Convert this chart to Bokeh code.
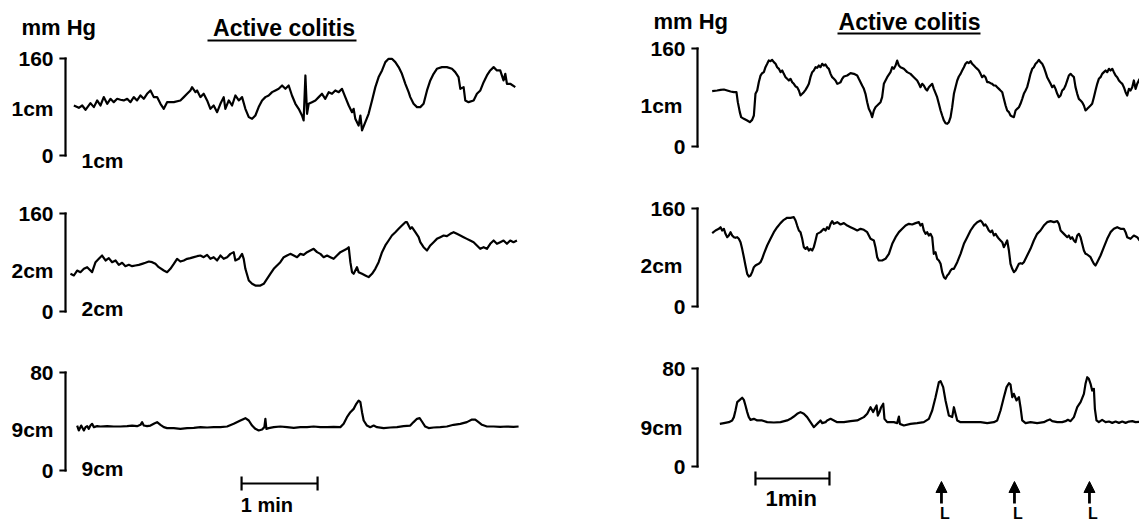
from bokeh.plotting import figure
from bokeh.layouts import row, column
from bokeh.models import Range1d, Label, Arrow, NormalHead
from bokeh.embed import file_html
from bokeh.resources import INLINE

FONT = "Liberation Sans"

# ---------------- data ----------------
TITLE = "Active colitis"
UNIT = "mm Hg"
SITES = ["1cm", "2cm", "9cm"]
FULL_SCALE = [160, 160, 80]          # mm Hg at the top of each calibration bar
BAR_SECONDS = 60                      # time scale bar length (s)
LEFT_BAR_LABEL = "1 min"
RIGHT_BAR_LABEL = "1min"
LEFT_BAR_START = 139.0                # s
RIGHT_BAR_START = 47.0                # s
ARROW_T = [197.8, 257.0, 317.8]       # s, right panel events
ARROW_LABEL = "L"

# left panel traces: (time s, pressure mm Hg)
L1 = [(6.6,82.5),(10.5,78.7),(13.2,82.5),(15.8,75.4),(19.7,86.4),(22.4,79.8),(25.0,90.8),(27.6,82.5),(30.2,96.3),(32.9,85.3),(35.5,93.5),(38.1,88.0),(40.8,93.5),(43.4,91.9),(46.0,90.8),(48.7,93.5),(51.3,88.0),(53.9,96.3),(56.5,90.8),(59.2,99.0),(61.8,93.5),(64.4,101.8),(67.1,107.3),(69.7,96.3),(72.3,96.3),(75.0,85.3),(77.6,77.0),(80.2,88.0),(85.5,88.0),(90.7,90.8),(93.4,96.3),(96.0,101.8),(98.6,107.3),(99.9,112.8),(102.6,104.5),(103.9,107.3),(106.5,96.3),(109.1,101.8),(111.8,90.8),(114.4,77.0),(117.0,82.5),(119.7,71.5),(122.3,85.3),(124.9,96.3),(126.2,77.0),(128.9,90.8),(131.5,82.5),(134.1,99.0),(136.8,90.8),(139.4,96.3),(142.0,77.0),(144.7,63.3),(147.3,60.5),(149.9,66.0),(152.5,79.8),(155.2,90.8),(157.8,96.3),(160.4,99.0),(163.1,104.5),(165.7,107.3),(168.3,110.0),(171.0,115.5),(173.6,110.0),(176.2,115.5),(178.8,99.0),(181.5,85.3),(184.1,77.0),(186.7,66.0),(188.0,57.8),(189.4,132.0),(190.7,68.8),(192.0,85.3),(194.6,88.0),(197.3,90.8),(199.9,96.3),(202.5,101.8),(205.1,93.5),(207.8,104.5),(210.4,101.8),(213.0,107.3),(215.7,104.5),(218.3,110.0),(220.9,96.3),(223.6,82.5),(226.2,71.5),(227.5,77.0),(228.8,60.5),(231.4,49.5),(232.8,66.0),(234.1,41.3),(236.7,55.0),(239.3,68.8),(242.0,90.8),(244.6,112.8),(247.2,129.3),(249.9,140.3),(252.5,154.0),(255.1,159.5),(257.7,159.5),(260.4,154.0),(263.0,145.8),(265.6,134.8),(268.3,118.3),(270.9,104.5),(272.2,96.3),(274.8,85.3),(277.5,79.8),(280.1,79.8),(282.7,85.3),(285.4,107.3),(288.0,123.8),(290.6,134.8),(293.2,143.0),(297.2,145.8),(301.1,145.8),(305.1,143.0),(307.7,137.5),(310.3,129.3),(311.7,110.0),(314.3,112.8),(315.6,90.8),(318.2,88.0),(322.2,90.8),(324.8,101.8),(327.5,107.3),(330.1,121.0),(332.7,132.0),(335.3,140.3),(338.0,145.8),(340.6,140.3),(343.2,140.3),(345.8,123.8),(347.2,134.8),(348.5,118.3),(351.1,118.3),(355.1,112.8)]

L2 = [(3.9,61.5),(6.6,58.8),(9.2,66.9),(11.8,64.2),(14.5,69.7),(17.1,72.4),(19.7,66.9),(21.0,64.2),(23.7,80.5),(26.3,86.0),(28.9,91.4),(31.6,83.3),(34.2,87.1),(36.8,80.5),(39.5,83.3),(42.1,76.2),(44.7,79.5),(47.3,74.0),(50.0,76.2),(52.6,74.0),(55.2,75.1),(57.9,76.2),(60.5,77.8),(63.1,79.5),(65.8,81.6),(68.4,80.5),(71.0,77.8),(73.6,72.4),(77.6,66.9),(80.2,64.2),(82.8,69.7),(85.5,77.8),(88.1,86.0),(90.7,81.6),(93.4,83.3),(96.0,86.0),(98.6,87.1),(101.3,88.7),(103.9,90.3),(106.5,91.4),(109.1,88.7),(111.8,92.5),(114.4,86.0),(117.0,88.7),(119.7,83.3),(122.3,91.4),(124.9,86.0),(127.6,88.7),(130.2,94.1),(132.8,96.9),(134.1,83.3),(136.8,86.0),(139.4,94.1),(140.7,86.0),(142.0,69.7),(144.7,50.6),(147.3,45.2),(149.9,42.4),(153.9,42.4),(156.5,45.2),(159.1,53.3),(161.7,61.5),(164.4,69.7),(167.0,75.1),(169.6,80.5),(172.3,88.7),(174.9,91.4),(177.5,94.1),(180.2,91.4),(182.8,88.7),(185.4,94.1),(188.0,92.5),(190.7,96.9),(193.3,99.6),(195.9,102.3),(198.6,96.9),(201.2,94.1),(203.8,88.7),(206.5,91.4),(209.1,88.7),(211.7,86.0),(214.3,91.4),(217.0,96.9),(219.6,99.6),(222.2,102.3),(223.6,105.0),(224.9,80.5),(226.2,64.2),(227.5,61.5),(228.8,66.9),(230.1,72.4),(231.4,64.2),(234.1,61.5),(236.7,58.8),(239.3,56.1),(242.0,61.5),(244.6,69.7),(247.2,80.5),(249.9,96.9),(252.5,107.8),(255.1,115.9),(257.7,124.1),(260.4,129.5),(263.0,135.0),(265.6,140.4),(268.3,145.8),(269.6,145.8),(270.9,140.4),(272.2,135.0),(273.5,137.7),(276.2,129.5),(278.8,121.4),(280.1,113.2),(282.7,105.0),(285.4,99.6),(288.0,107.8),(290.6,113.2),(293.2,118.6),(295.9,121.4),(298.5,124.1),(301.1,123.0),(303.8,126.8),(306.4,129.5),(309.0,126.8),(311.7,124.1),(314.3,121.4),(316.9,118.6),(319.5,115.9),(322.2,113.2),(324.8,107.8),(327.4,102.3),(330.1,105.0),(332.7,102.3),(335.3,110.5),(338.0,115.9),(340.6,110.5),(343.2,113.2),(345.8,115.9),(348.5,110.5),(351.1,115.9),(353.7,113.2),(356.4,115.9)]

L3 = [(9.2,36.7),(10.5,32.7),(12.4,36.7),(14.5,32.7),(15.8,35.4),(17.1,36.2),(18.4,34.0),(19.7,36.7),(21.0,38.1),(22.4,35.4),(25.0,36.2),(27.6,35.9),(32.9,36.2),(38.1,35.9),(43.4,35.9),(48.7,36.2),(52.6,36.7),(56.5,36.2),(59.2,37.3),(60.5,39.5),(61.8,36.7),(64.4,36.2),(67.1,36.7),(69.7,38.1),(72.3,39.5),(75.0,37.3),(77.6,35.4),(80.2,34.6),(85.5,34.6),(90.7,34.0),(96.0,34.6),(101.3,34.8),(106.5,35.4),(111.8,35.1),(117.0,35.4),(122.3,35.4),(127.6,35.9),(132.8,38.1),(138.1,40.8),(142.0,42.7),(144.7,40.8),(147.3,36.7),(149.9,34.0),(152.5,32.7),(155.2,33.5),(157.0,35.4),(157.8,42.2),(158.6,34.0),(160.4,34.6),(164.4,35.4),(169.6,35.9),(174.9,35.4),(180.2,34.8),(185.4,35.4),(190.7,35.4),(195.9,35.9),(201.2,35.4),(206.5,35.4),(211.7,35.6),(217.0,35.4),(219.6,38.1),(222.2,43.5),(224.9,47.6),(227.5,50.3),(229.6,54.4),(231.4,57.1),(232.8,55.8),(234.1,47.6),(235.4,40.8),(238.0,36.7),(240.6,35.4),(243.3,36.7),(245.9,35.4),(251.2,34.6),(256.4,35.1),(261.7,35.4),(266.9,36.2),(272.2,36.7),(274.8,39.5),(277.5,42.2),(279.6,42.7),(281.4,40.0),(284.0,35.9),(286.7,34.6),(290.6,35.1),(295.9,35.4),(301.1,35.9),(306.4,37.3),(311.7,38.1),(316.9,39.5),(320.9,41.6),(323.5,41.6),(326.1,39.5),(328.8,37.3),(332.7,35.9),(338.0,35.9),(343.2,35.6),(348.5,35.9),(353.7,35.6),(357.7,35.9)]

# right panel traces: (time s, pressure mm Hg)
R1 = [(11.9,90.3),(15.9,91.4),(18.7,92.5),(21.4,93.1),(24.1,91.4),(26.8,89.8),(29.5,88.7),(31.6,88.7),(32.7,72.4),(34.3,56.1),(35.4,47.9),(37.6,45.2),(40.3,42.4),(42.4,39.7),(44.3,43.5),(45.7,50.6),(47.0,86.0),(48.4,91.4),(49.7,105.0),(51.1,115.9),(52.4,119.7),(53.8,121.4),(55.1,129.5),(56.5,135.0),(57.8,140.4),(59.2,139.3),(60.5,141.5),(61.9,137.7),(63.3,135.0),(64.6,129.5),(66.0,126.8),(67.3,121.4),(68.7,124.1),(70.0,118.6),(71.4,113.2),(72.7,110.5),(74.1,107.8),(75.4,110.5),(76.8,105.0),(78.1,102.3),(79.5,98.0),(80.8,96.9),(82.2,91.4),(83.5,83.3),(84.9,86.0),(86.2,88.7),(87.6,92.5),(88.9,96.9),(90.3,102.3),(91.6,113.2),(93.0,121.4),(94.3,124.1),(95.7,129.5),(97.0,128.4),(98.4,132.2),(99.7,129.5),(101.1,135.0),(102.4,132.2),(103.8,133.9),(105.1,129.5),(106.5,126.8),(107.9,118.6),(109.2,113.2),(110.6,110.5),(111.9,107.8),(113.3,102.3),(114.6,103.4),(116.0,105.0),(117.3,110.5),(118.7,114.3),(121.4,115.9),(124.1,119.7),(126.8,118.6),(129.5,115.9),(130.8,110.5),(132.2,105.0),(133.5,99.6),(134.9,94.1),(136.2,86.0),(137.6,72.4),(138.9,61.5),(140.3,56.1),(141.6,47.9),(143.0,58.8),(144.3,64.2),(145.7,66.9),(148.4,72.4),(149.7,80.5),(151.1,102.3),(153.8,113.2),(156.5,121.4),(157.9,129.5),(159.2,126.8),(160.6,132.2),(161.9,140.4),(163.3,132.2),(164.6,129.5),(167.3,126.8),(170.0,121.4),(172.7,118.6),(175.4,113.2),(178.1,107.8),(179.5,102.3),(180.8,96.9),(182.2,102.3),(183.5,99.6),(184.9,94.1),(186.2,91.4),(187.6,96.9),(188.9,99.6),(190.3,102.3),(191.6,94.1),(194.3,80.5),(195.7,69.7),(197.1,58.8),(198.4,50.6),(199.8,42.4),(201.1,38.1),(202.5,37.0),(203.8,39.7),(205.2,47.9),(206.5,64.2),(207.9,86.0),(209.2,96.9),(210.6,107.8),(211.9,114.3),(213.3,118.6),(214.6,124.1),(216.0,129.5),(217.3,135.0),(218.7,137.7),(220.0,136.1),(221.4,139.3),(222.7,135.0),(224.1,132.2),(225.4,129.5),(226.8,126.8),(228.1,124.1),(229.5,118.6),(230.8,113.2),(232.2,115.9),(233.5,113.2),(234.9,105.0),(236.2,105.0),(237.6,103.4),(238.9,102.3),(240.3,99.6),(241.7,99.6),(243.0,96.9),(244.4,94.1),(245.7,91.4),(247.1,88.7),(248.4,77.8),(249.8,66.9),(251.1,58.8),(252.5,56.1),(253.8,50.6),(255.2,49.0),(256.5,47.9),(257.9,58.8),(259.2,61.5),(260.6,64.2),(261.9,69.7),(263.3,77.8),(264.6,86.0),(266.0,91.4),(267.3,96.9),(268.7,107.8),(270.0,118.6),(271.4,126.8),(272.7,129.5),(274.1,135.0),(275.4,137.7),(276.8,141.5),(278.1,137.7),(279.5,135.0),(280.8,129.5),(282.2,121.4),(283.5,113.2),(284.9,107.8),(286.3,102.3),(287.6,96.9),(289.0,99.6),(290.3,94.1),(291.7,86.0),(293.0,80.5),(294.4,83.3),(295.7,91.4),(297.1,94.1),(298.4,99.6),(299.8,107.8),(301.1,115.9),(302.5,118.6),(303.8,115.9),(305.2,113.2),(306.5,96.9),(307.9,86.0),(309.2,77.8),(310.6,75.1),(311.9,72.4),(313.3,66.9),(314.6,58.8),(316.0,61.5),(317.3,64.2),(318.7,66.9),(320.0,69.7),(321.4,80.5),(322.7,91.4),(324.1,102.3),(325.4,110.5),(326.8,113.2),(328.1,118.6),(329.5,121.4),(330.9,124.1),(332.2,121.4),(333.6,126.8),(334.9,124.1),(336.3,126.8),(337.6,121.4),(339.0,115.9),(340.3,113.2),(341.7,107.8),(343.0,105.0),(344.4,102.3),(345.7,96.9),(347.1,88.7),(348.4,83.3),(349.8,94.1),(351.1,91.4),(352.5,96.9),(353.8,107.8),(355.2,94.1),(356.5,102.3),(358.5,110.5)]

R2 = [(11.9,119.7),(14.6,124.1),(17.3,126.8),(18.7,129.5),(20.0,124.1),(21.4,126.8),(22.7,118.6),(24.1,113.2),(25.4,115.9),(26.8,121.4),(28.1,115.9),(29.5,113.2),(30.8,112.1),(32.2,113.2),(33.5,110.5),(34.9,105.0),(36.2,94.1),(37.6,80.5),(38.9,66.9),(40.3,53.3),(41.6,49.0),(43.0,50.6),(44.3,56.1),(45.7,64.2),(47.0,66.9),(48.4,68.6),(49.7,69.7),(51.1,72.4),(52.4,77.8),(53.8,86.0),(56.5,99.6),(59.2,110.5),(61.9,121.4),(64.6,129.5),(67.3,136.1),(70.0,141.5),(72.7,144.8),(75.4,144.8),(78.1,145.8),(79.5,140.4),(80.8,132.2),(82.2,124.1),(83.5,121.4),(84.9,110.5),(86.2,96.9),(87.6,94.1),(88.9,96.9),(90.3,91.4),(91.6,94.1),(93.0,91.4),(94.3,96.9),(95.7,107.8),(97.0,118.6),(99.7,121.4),(102.4,126.8),(103.8,124.1),(105.1,129.5),(106.5,126.8),(107.9,135.0),(109.2,139.3),(110.6,135.0),(113.3,137.7),(116.0,133.9),(118.7,136.1),(121.4,132.2),(124.1,129.5),(126.8,126.8),(129.5,124.1),(132.2,126.8),(134.9,125.2),(137.6,121.4),(140.3,110.5),(143.0,107.8),(144.3,96.9),(145.7,80.5),(147.0,75.1),(149.7,75.1),(152.4,77.8),(155.2,86.0),(157.9,102.3),(160.6,113.2),(163.3,121.4),(166.0,126.8),(168.7,132.2),(171.4,135.0),(174.1,133.9),(176.8,136.1),(179.5,137.7),(180.8,132.2),(182.2,135.0),(183.5,124.1),(184.9,118.6),(186.2,121.4),(187.6,115.9),(188.9,118.6),(190.3,113.2),(191.6,86.0),(193.0,88.7),(194.3,77.8),(195.7,75.1),(197.1,69.7),(198.4,56.1),(199.8,47.9),(201.1,45.2),(202.5,50.6),(203.8,53.3),(205.2,58.8),(206.5,61.5),(207.9,61.5),(210.6,72.4),(213.3,86.0),(216.0,102.3),(218.7,113.2),(221.4,124.1),(224.1,132.2),(226.8,137.7),(229.5,140.4),(230.8,137.7),(232.2,132.2),(233.5,133.9),(234.9,129.5),(236.2,124.1),(237.6,121.4),(238.9,124.1),(240.3,115.9),(241.7,118.6),(243.0,114.3),(244.4,110.5),(245.7,107.8),(247.1,105.0),(248.4,96.9),(249.8,102.3),(251.1,107.8),(252.5,91.4),(253.8,69.7),(255.2,61.5),(256.5,56.1),(257.9,58.8),(259.2,64.2),(260.6,69.7),(261.9,70.7),(263.3,69.7),(264.6,72.4),(267.3,83.3),(270.0,94.1),(272.7,107.8),(275.4,118.6),(278.1,124.1),(280.8,132.2),(283.5,137.7),(286.3,139.3),(289.0,137.7),(291.7,139.3),(293.0,135.0),(294.4,124.1),(297.1,118.6),(299.8,113.2),(301.1,115.9),(302.5,110.5),(303.8,113.2),(305.2,107.8),(306.5,105.0),(307.9,115.9),(309.2,118.6),(310.6,113.2),(311.9,102.3),(313.3,91.4),(314.6,86.0),(316.0,84.9),(318.7,80.5),(320.0,75.1),(321.4,69.7),(322.7,66.9),(324.1,72.4),(326.8,83.3),(329.5,96.9),(332.2,110.5),(334.9,121.4),(337.6,126.8),(340.3,129.5),(343.0,126.8),(345.7,126.8),(347.1,121.4),(348.4,113.2),(351.1,110.5),(353.8,115.9),(356.5,113.2),(358.5,107.8)]

R3 = [(18.1,34.8),(21.4,35.4),(25.4,36.2),(28.1,37.6),(29.5,40.3),(30.8,45.7),(32.2,52.5),(34.3,54.4),(36.2,56.1),(37.6,54.4),(38.9,49.8),(40.3,44.4),(41.6,40.3),(43.0,38.1),(45.7,38.9),(48.4,37.6),(52.4,37.6),(56.5,36.2),(61.9,35.9),(67.3,36.2),(72.7,37.6),(75.4,38.9),(78.1,40.8),(80.8,43.0),(83.5,44.4),(86.2,43.0),(88.9,40.3),(91.6,36.2),(94.3,32.1),(95.7,33.5),(98.4,36.2),(99.7,37.6),(101.1,35.4),(103.8,36.2),(105.1,37.6),(107.9,38.9),(110.6,37.6),(113.3,36.2),(118.7,36.2),(124.1,37.0),(129.5,37.6),(132.2,38.9),(134.9,40.3),(137.6,43.0),(140.3,48.4),(142.4,44.4),(143.8,47.1),(145.2,49.8),(146.2,41.6),(147.6,44.4),(148.9,48.4),(150.6,51.2),(151.6,38.9),(153.8,36.2),(156.5,36.2),(159.2,36.2),(161.9,35.4),(163.3,40.8),(164.1,34.8),(167.3,33.5),(172.7,34.8),(178.1,35.4),(183.5,36.2),(187.6,38.9),(190.3,45.7),(193.0,56.6),(195.7,68.8),(197.1,69.7),(199.2,64.8),(201.1,53.9),(203.8,41.6),(206.5,40.3),(207.9,48.4),(209.2,43.0),(210.6,37.6),(213.3,36.2),(218.7,36.2),(224.1,36.2),(229.5,36.2),(234.9,35.4),(240.3,36.2),(243.0,37.6),(245.7,45.7),(248.4,56.6),(250.6,64.8),(252.5,68.0),(253.8,66.9),(255.2,56.6),(256.5,59.3),(258.7,53.9),(260.6,56.6),(261.9,48.4),(263.3,37.6),(266.0,35.4),(270.0,36.2),(275.4,35.4),(280.8,36.2),(283.5,37.6),(285.7,38.4),(287.6,37.0),(291.7,36.2),(295.7,36.2),(298.4,37.0),(300.3,38.1),(302.5,37.0),(305.2,40.3),(307.9,48.4),(310.6,52.5),(313.3,59.3),(314.6,67.5),(316.0,72.9),(317.3,71.6),(318.7,67.5),(320.0,62.0),(321.4,63.4),(322.2,47.1),(323.5,37.6),(325.4,36.2),(328.1,38.1),(330.9,36.2),(333.6,36.7),(336.3,35.6),(339.0,36.7),(341.7,35.6),(344.4,36.7),(347.1,35.6),(349.8,36.7),(352.5,37.0),(355.2,36.2),(358.5,36.5)]

# ---------------- layout (page pixels, used only for placement) ----------------
LEFT_COL = dict(x0=0, width=570, axis_px=65, px_per_min=76)
RIGHT_COL = dict(x0=570, width=569, axis_px=697, px_per_min=74)
# (figure top, figure height, pixel of 0, pixel of full scale)
LEFT_ROWS = [(0, 185, 155, 58), (185, 160, 311, 213), (345, 178, 470, 372)]
RIGHT_ROWS = [(0, 180, 146, 48), (180, 160, 306, 208), (340, 183, 466, 368)]


def add_label(p, x, y, text, size=21, align="left", baseline="middle", style="bold"):
    p.add_layout(Label(x=x, y=y, text=text, text_font=FONT,
                       text_font_size="%dpx" % size, text_font_style=style,
                       text_align=align, text_baseline=baseline,
                       text_color="black"))


def make_fig(col, spec, full):
    top, h, y0, y1 = spec
    spp = 60.0 / col["px_per_min"]
    x_start = (col["x0"] - col["axis_px"]) * spp
    x_end = (col["x0"] + col["width"] - col["axis_px"]) * spp
    upp = full / float(y0 - y1)
    y_start = -(top + h - y0) * upp
    y_end = full + (y1 - top) * upp
    p = figure(width=col["width"], height=h,
               x_range=Range1d(x_start, x_end), y_range=Range1d(y_start, y_end),
               output_backend="svg", toolbar_location=None, tools="",
               x_axis_location=None, y_axis_location=None,
               min_border_left=0, min_border_right=0,
               min_border_top=0, min_border_bottom=0)
    p.outline_line_color = None
    p.grid.visible = False
    p.background_fill_color = "white"
    p.border_fill_color = "white"

    def fx(px):
        return (px - col["axis_px"]) * spp

    def fy(py):
        return (y0 - py) * upp

    # calibration bar (pressure axis): 0 .. full scale, ticks pointing outward
    tick = 5 * spp
    p.segment(x0=[0, 0, 0], y0=[0, 0, full], x1=[0, -tick, -tick], y1=[full, 0, full],
              line_color="black", line_width=2.2, line_cap="square")
    for v in (0, full):
        add_label(p, -12 * spp, v, str(v), size=21, align="right")
    return p, fx, fy


def trace(p, pts):
    p.line([a for a, b in pts], [b for a, b in pts], line_color="black",
           line_width=2.2, line_join="round")


def scale_bar(p, start, y, cap):
    s, e = start, start + BAR_SECONDS
    p.segment(x0=[s, s, e], y0=[y, y - cap, y - cap], x1=[e, s, e], y1=[y, y + cap, y + cap],
              line_color="black", line_width=2.2)


# ---------------- left panel ----------------
left_figs = []
left_traces = [L1, L2, L3]
left_mid_y = [108, 270, 429]
left_bottom_y = [160, 308, 468]
for i in range(3):
    p, fx, fy = make_fig(LEFT_COL, LEFT_ROWS[i], FULL_SCALE[i])
    trace(p, left_traces[i])
    add_label(p, fx(53), fy(left_mid_y[i]), SITES[i], align="right")
    add_label(p, fx(81), fy(left_bottom_y[i]), SITES[i], align="left")
    if i == 0:
        add_label(p, fx(21), fy(27), UNIT, size=22, align="left")
        add_label(p, fx(283.5), fy(27), TITLE, size=23, align="center")
        p.segment(x0=[fx(207)], y0=[fy(40)], x1=[fx(356)], y1=[fy(40)],
                  line_color="black", line_width=2)
    if i == 2:
        scale_bar(p, LEFT_BAR_START, fy(483), 7 * FULL_SCALE[i] / 98.0)
        add_label(p, LEFT_BAR_START + BAR_SECONDS / 2 - 10, fy(504), LEFT_BAR_LABEL,
                  size=20, align="center")
    left_figs.append(p)

# ---------------- right panel ----------------
right_figs = []
right_traces = [R1, R2, R3]
right_mid_y = [105, 265, 427]
for i in range(3):
    p, fx, fy = make_fig(RIGHT_COL, RIGHT_ROWS[i], FULL_SCALE[i])
    trace(p, right_traces[i])
    add_label(p, fx(682), fy(right_mid_y[i]), SITES[i], align="right")
    if i == 0:
        add_label(p, fx(653), fy(21), UNIT, size=22, align="left")
        add_label(p, fx(909), fy(21), TITLE, size=23, align="center")
        p.segment(x0=[fx(837)], y0=[fy(33)], x1=[fx(980)], y1=[fy(33)],
                  line_color="black", line_width=2)
    if i == 2:
        scale_bar(p, RIGHT_BAR_START, fy(478), 7 * FULL_SCALE[i] / 98.0)
        add_label(p, RIGHT_BAR_START + BAR_SECONDS / 2 - 1, fy(498), RIGHT_BAR_LABEL,
                  size=22, align="center")
        for t in ARROW_T:
            p.add_layout(Arrow(end=NormalHead(size=11, fill_color="black",
                                              line_color="black", line_width=1),
                               x_start=t, y_start=fy(503), x_end=t, y_end=fy(481),
                               line_color="black", line_width=2.8))
            add_label(p, t - 1.2, fy(504), ARROW_LABEL, size=16, align="left",
                      baseline="top", style="bold")
    right_figs.append(p)

layout = row(column(*left_figs), column(*right_figs))
open("out.html", "w").write(file_html(layout, INLINE))
